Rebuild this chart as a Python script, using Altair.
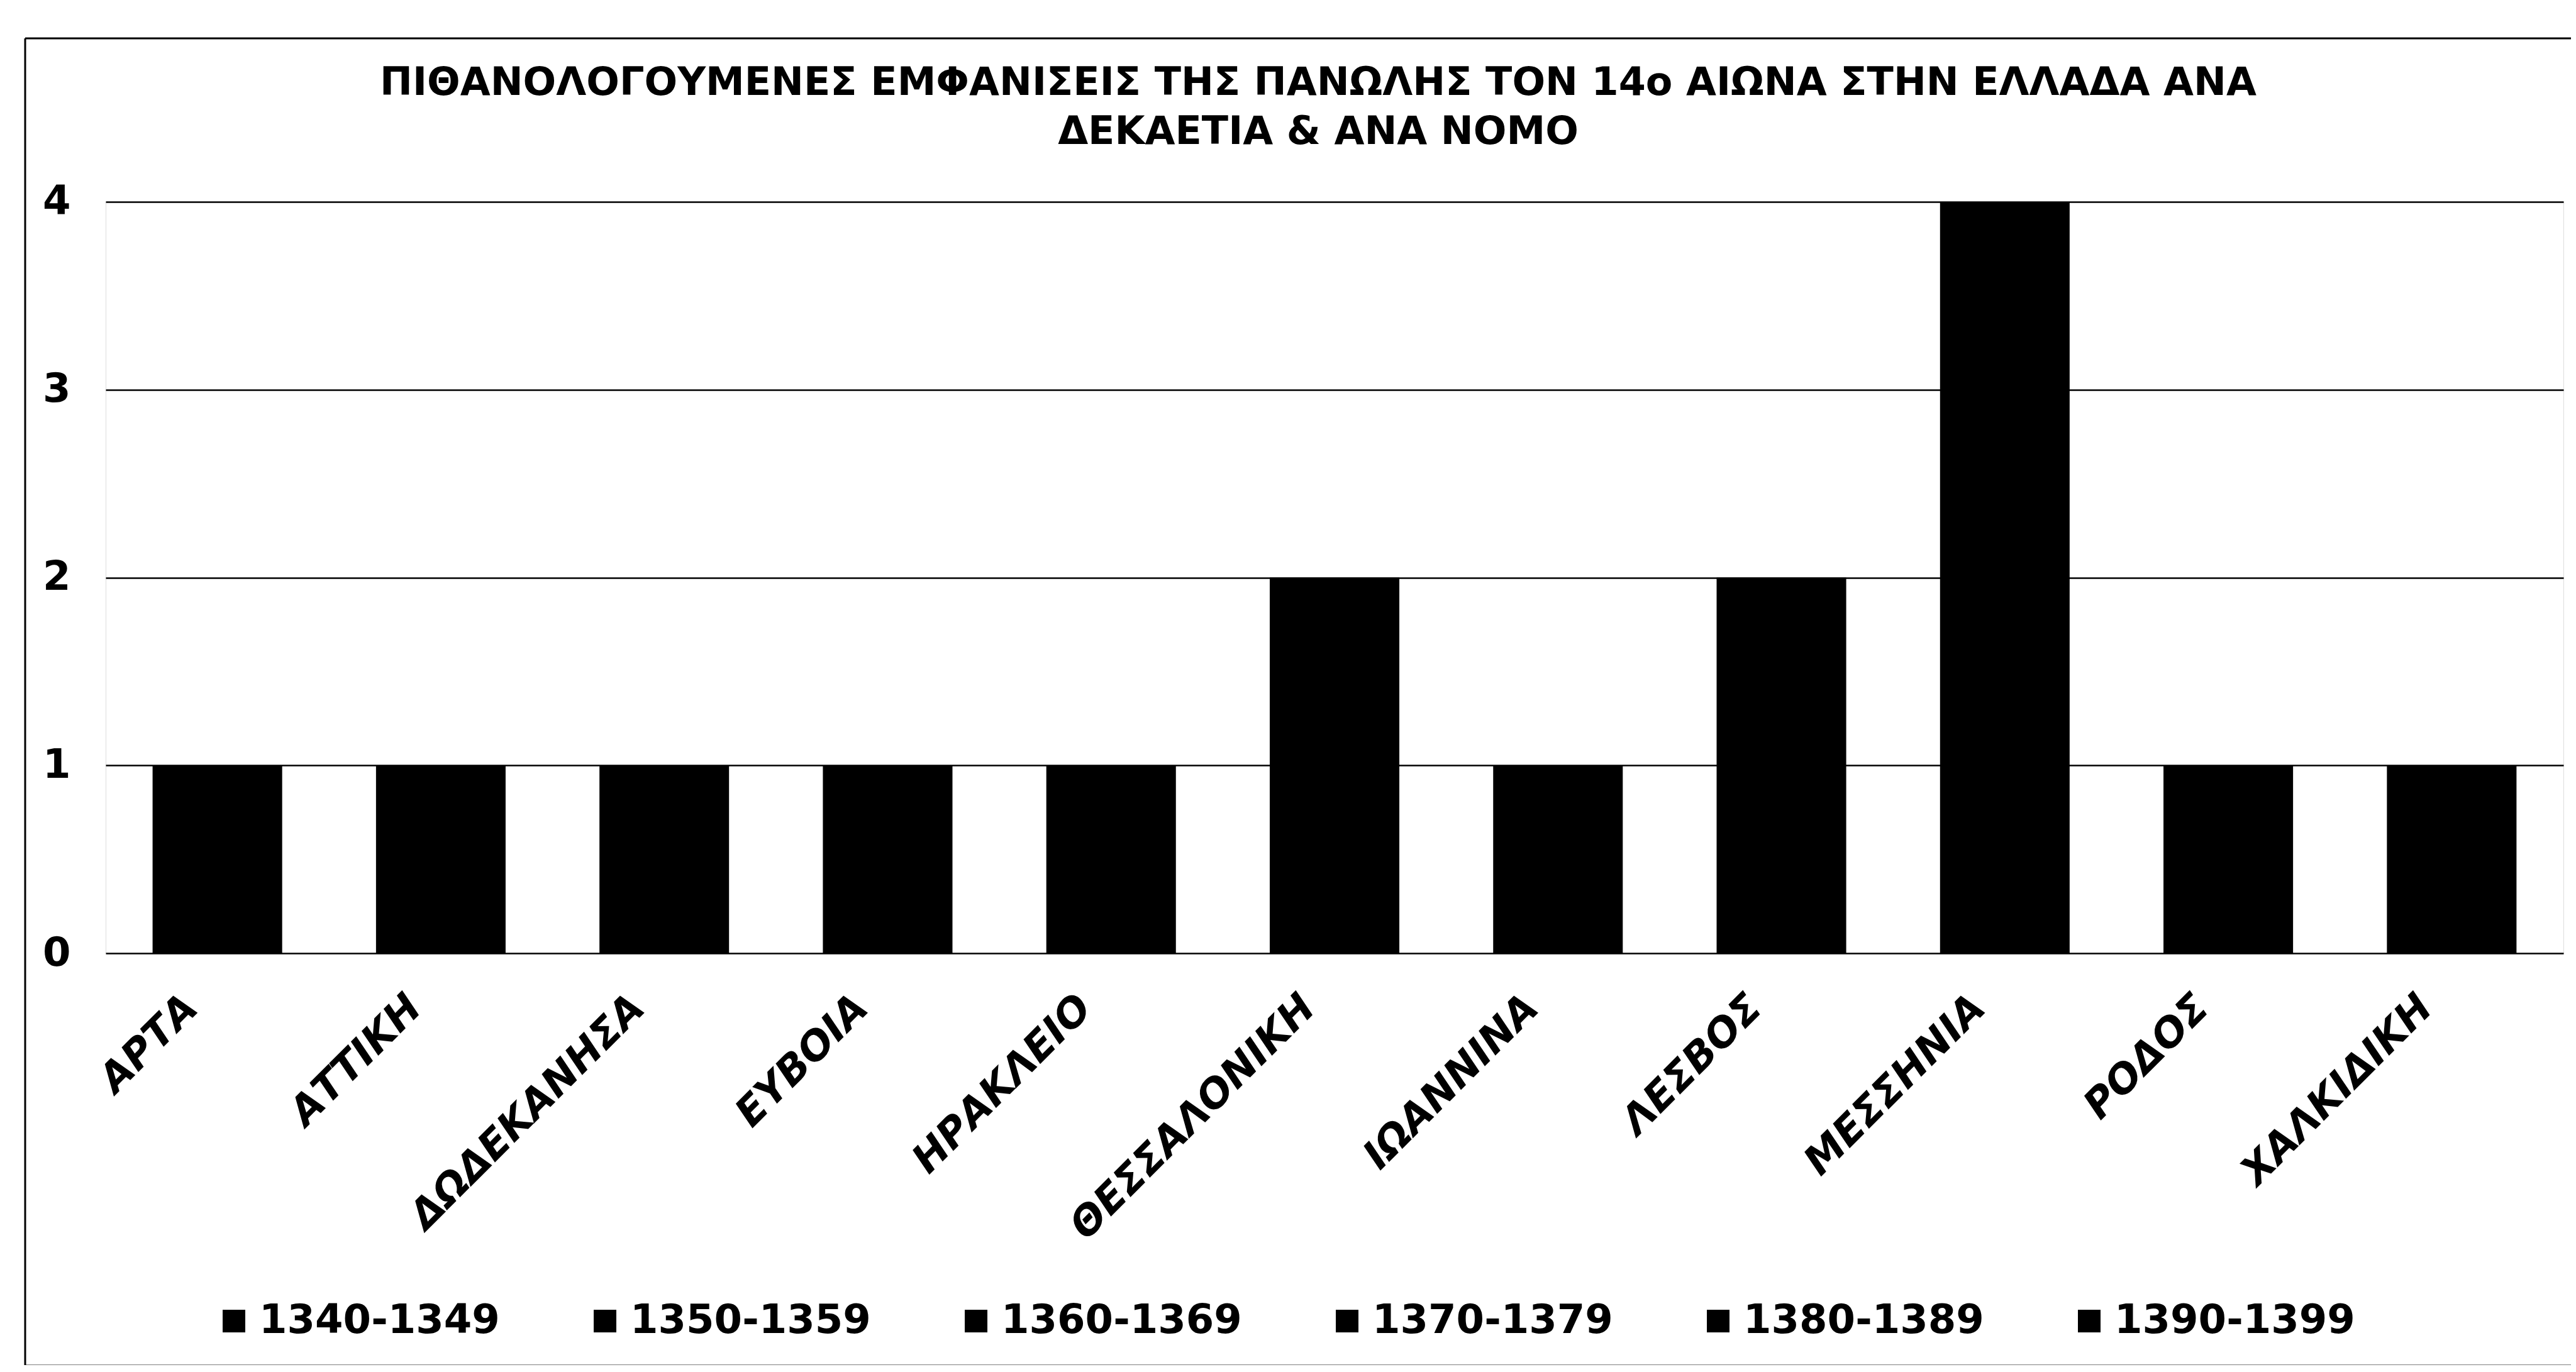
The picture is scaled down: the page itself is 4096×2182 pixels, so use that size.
import altair as alt
import pandas as pd

# ---- data ----
prefectures = ["ΑΡΤΑ", "ΑΤΤΙΚΗ", "ΔΩΔΕΚΑΝΗΣΑ", "ΕΥΒΟΙΑ", "ΗΡΑΚΛΕΙΟ", "ΘΕΣΣΑΛΟΝΙΚΗ",
               "ΙΩΑΝΝΙΝΑ", "ΛΕΣΒΟΣ", "ΜΕΣΣΗΝΙΑ", "ΡΟΔΟΣ", "ΧΑΛΚΙΔΙΚΗ"]
counts = [1, 1, 1, 1, 1, 2, 1, 2, 4, 1, 1]
decades = ["1340-1349", "1350-1359", "1360-1369", "1370-1379", "1380-1389", "1390-1399"]
y_ticks = [0, 1, 2, 3, 4]
title_lines = ["ΠΙΘΑΝΟΛΟΓΟΥΜΕΝΕΣ ΕΜΦΑΝΙΣΕΙΣ ΤΗΣ ΠΑΝΩΛΗΣ ΤΟΝ 14ο ΑΙΩΝΑ ΣΤΗΝ ΕΛΛΑΔΑ ΑΝΑ",
               "ΔΕΚΑΕΤΙΑ & ΑΝΑ ΝΟΜΟ"]

FONT = "DejaVu Sans"
FS = 64
W, H = 3908, 1195

bars_df = pd.DataFrame({"prefecture": prefectures, "count": counts})
dec_df = pd.DataFrame({"decade": decades})
title_df = pd.DataFrame({"t": ["\n".join(title_lines)]})

bars = alt.Chart(bars_df).mark_bar(color="black").encode(
    x=alt.X("prefecture:N", sort=prefectures,
            scale=alt.Scale(paddingInner=0.42, paddingOuter=0.21),
            axis=alt.Axis(title=None, labelAngle=-45, labelAlign="right",
                          labelBaseline="middle", labelPadding=77, labelOffset=-41,
                          domain=False, ticks=False, tickSize=0, grid=False,
                          labelLimit=0, labelOverlap=False, labelBound=False,
                          labelFont=FONT, labelFontSize=FS, labelFontWeight="bold",
                          labelFontStyle="italic", labelColor="black")),
    y=alt.Y("count:Q", scale=alt.Scale(domain=[0, 4], nice=False),
            axis=alt.Axis(title=None, values=y_ticks, format="d", grid=True,
                          gridColor="black", gridWidth=2.5, gridOpacity=1,
                          domain=False, ticks=False, tickSize=0, labelPadding=56,
                          labelFont=FONT, labelFontSize=FS, labelFontWeight="bold",
                          labelColor="black")),
)

legend_layer = alt.Chart(dec_df).mark_square(opacity=0).encode(
    color=alt.Color("decade:N", sort=decades,
                    scale=alt.Scale(domain=decades, range=["black"] * len(decades)),
                    legend=alt.Legend(orient="none", legendX=172, legendY=1748,
                                      direction="horizontal", columns=6,
                                      symbolType="square", symbolSize=1296,
                                      symbolFillColor="black", symbolStrokeWidth=0,
                                      symbolOpacity=1, labelFont=FONT,
                                      labelFontSize=FS, labelFontWeight="bold",
                                      labelColor="black", labelOffset=8,
                                      columnPadding=135, labelLimit=0, title=None,
                                      padding=0)),
)

title = alt.Chart(title_df).mark_text(
    font=FONT, fontSize=62, fontWeight="bold", color="black", align="center",
    baseline="middle", lineBreak="\n", lineHeight=78,
).encode(text="t:N", x=alt.value(W / 2 - 26), y=alt.value(-189))

one = pd.DataFrame({"k": [0]})
frame_top = alt.Chart(one).mark_rule(color="black", strokeWidth=3).encode(
    x=alt.value(-128), x2=alt.value(3920), y=alt.value(-260))
frame_bottom = alt.Chart(one).mark_rule(color="black", strokeWidth=3).encode(
    x=alt.value(-128), x2=alt.value(3920), y=alt.value(1851))
frame_left = alt.Chart(one).mark_rule(color="black", strokeWidth=3).encode(
    x=alt.value(-128), y=alt.value(-260), y2=alt.value(1851))

chart = alt.layer(bars, legend_layer, title, frame_top, frame_bottom, frame_left).properties(
    width=W, height=H,
    autosize=alt.AutoSizeParams(type="none"),
    padding={"left": 160, "top": 313, "right": 12, "bottom": 655},
).configure_view(stroke=None).configure(background="white")

chart.save("out.html", embed_options={"renderer": "svg", "actions": False})
